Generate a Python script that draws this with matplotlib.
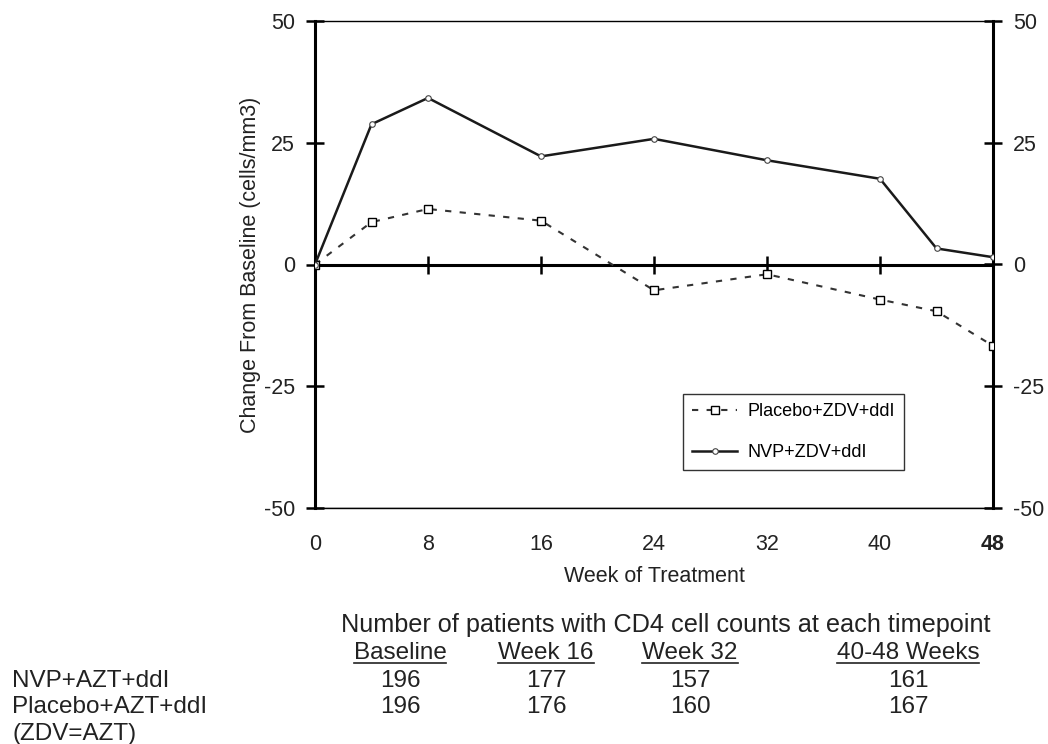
import matplotlib
matplotlib.use('Agg')
import matplotlib.pyplot as plt
from matplotlib.lines import Line2D

plt.rcParams['font.family'] = ['Liberation Sans', 'DejaVu Sans']

weeks = [0, 4, 8, 16, 24, 32, 40, 44, 48]
nvp = [0, 28.8, 34.2, 22.2, 25.8, 21.4, 17.6, 3.3, 1.5]
placebo = [0, 8.7, 11.4, 9.0, -5.3, -2.0, -7.2, -9.6, -16.7]

xticks = [0, 8, 16, 24, 32, 40, 48]
yticks = [-50, -25, 0, 25, 50]

table_title = 'Number of patients with CD4 cell counts at each timepoint'
col_heads = ['Baseline', 'Week 16', 'Week 32', '40-48 Weeks']
col_x = [400, 546, 690, 908]
row_labels = ['NVP+AZT+ddI', 'Placebo+AZT+ddI', '(ZDV=AZT)']
row_nvp = ['196', '177', '157', '161']
row_placebo = ['196', '176', '160', '167']

W, H = 1048, 744
fig = plt.figure(figsize=(W / 100, H / 100), dpi=100)
ax = fig.add_axes([315 / W, 1 - 508 / H, (993 - 315) / W, (508 - 21) / H])

txt = '#222222'
tfs = 15.5
ax.plot(weeks, placebo, color='#333333', lw=1.5, ls=(0, (3, 4)), marker='s',
        ms=5.5, mfc='white', mec='black', mew=1.0, label='Placebo+ZDV+ddI', zorder=3)
ax.plot(weeks, nvp, color='#1a1a1a', lw=1.8, marker='o', ms=4, mfc='white',
        mec='#444444', mew=0.8, label='NVP+ZDV+ddI', zorder=3)

ax.set_xlim(0, 48)
ax.set_ylim(-50, 50)

# frame
ax.spines['top'].set_linewidth(1.0)
ax.spines['left'].set_linewidth(2.2)
ax.spines['right'].set_linewidth(2.2)
ax.spines['bottom'].set_position(('data', 0))
ax.spines['bottom'].set_linewidth(2.2)
ax.axhline(-50, color='black', lw=1.0, zorder=2)

ax.set_xticks(xticks)
ax.tick_params(axis='x', direction='inout', length=13, width=1.8, labelbottom=False)
ax.set_yticks(yticks)
ax.set_yticklabels([str(v) for v in yticks])
ax.tick_params(axis='y', direction='inout', length=13, width=1.8, labelsize=tfs,
               labelcolor=txt, pad=8)

# x tick labels below the plot
sec = ax.secondary_xaxis('bottom')
sec.set_xticks(xticks)
sec.set_xticklabels([str(v) for v in xticks])
sec.tick_params(length=0, labelsize=tfs, labelcolor=txt, pad=19)
sec.spines['bottom'].set_linewidth(1.0)
sec.get_xticklabels()[-1].set_fontweight('bold')
sec.set_xlabel('Week of Treatment', fontsize=tfs, color=txt, labelpad=8)

axr = ax.twinx()
axr.set_ylim(-50, 50)
axr.set_yticks(yticks)
axr.set_yticklabels([str(v) for v in yticks])
axr.tick_params(axis='y', direction='inout', length=13, width=1.8, labelsize=tfs,
                labelcolor=txt, pad=8)
for s in axr.spines.values():
    s.set_visible(False)

ax.set_ylabel('Change From Baseline (cells/mm3)', fontsize=tfs, color=txt, labelpad=2)

leg = ax.legend(loc='upper left', bbox_to_anchor=(0.543, 0.234), borderaxespad=0,
                fontsize=13, frameon=True, fancybox=False, handlelength=2.5,
                borderpad=0.5, labelspacing=1.35, handletextpad=0.55)
leg.get_frame().set_edgecolor('black')
leg.get_frame().set_linewidth(1.0)
leg.set_zorder(5)

# patient count table
def px(x, y):
    return x / W, 1 - y / H

fs = 17.5
fig.text(*px(666, 632), table_title, ha='center', va='baseline', fontsize=18.2, color=txt)
heads = []
for x, h in zip(col_x, col_heads):
    heads.append(fig.text(*px(x, 659), h, ha='center', va='baseline', fontsize=fs, color=txt))
for x, v in zip(col_x, row_nvp):
    fig.text(*px(x, 687), v, ha='center', va='baseline', fontsize=fs, color=txt)
for x, v in zip(col_x, row_placebo):
    fig.text(*px(x, 713), v, ha='center', va='baseline', fontsize=fs, color=txt)
for y, lab in zip([687, 713, 740], row_labels):
    fig.text(*px(12, y), lab, ha='left', va='baseline', fontsize=fs, color=txt)

fig.canvas.draw()
r = fig.canvas.get_renderer()
for t in heads:
    bb = t.get_window_extent(r)
    y = 1 - 663 / H
    fig.add_artist(Line2D([bb.x0 / W, bb.x1 / W], [y, y], color=txt, lw=1.2))

fig.savefig('out.png', dpi=100)
